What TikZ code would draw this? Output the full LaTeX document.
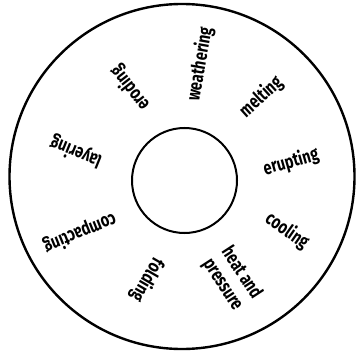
\documentclass[tikz,border=0pt]{standalone}
\usepackage{fontspec}
\setmainfont{Fira Sans}[FakeStretch=0.76]
\tikzset{
  ring/.style={draw=black, line width=2.4pt},
  hub/.style={draw=black, line width=2pt},
  lab/.style={font=\fontsize{19}{22}\selectfont\bfseries, inner sep=0pt, align=left}
}
\begin{document}
\begin{tikzpicture}[x=1pt,y=1pt]
\useasboundingbox (0,0) rectangle (358,354);
\node[ring, circle, minimum size=345pt, inner sep=0pt] (outer) at (182,177.5) {};
\node[hub, circle, minimum size=105pt, inner sep=0pt] (inner) at (184.5,173.5) {};
\node[lab, rotate=80] (weathering) at (200,290) {weathering};
\node[lab, rotate=42] (melting) at (261,257) {melting};
\node[lab, rotate=16] (erupting) at (291,192) {erupting};
\node[lab, rotate=-35] (cooling) at (287,123) {cooling};
\node[lab, rotate=-57] (heat) at (232,75) {heat and\\pressure};
\node[lab, rotate=240] (folding) at (147,74) {folding};
\node[lab, rotate=202] (compacting) at (80,121) {compacting};
\node[lab, rotate=158] (layering) at (76,202) {layering};
\node[lab, rotate=128] (eroding) at (130,266) {eroding};
\end{tikzpicture}
\end{document}
